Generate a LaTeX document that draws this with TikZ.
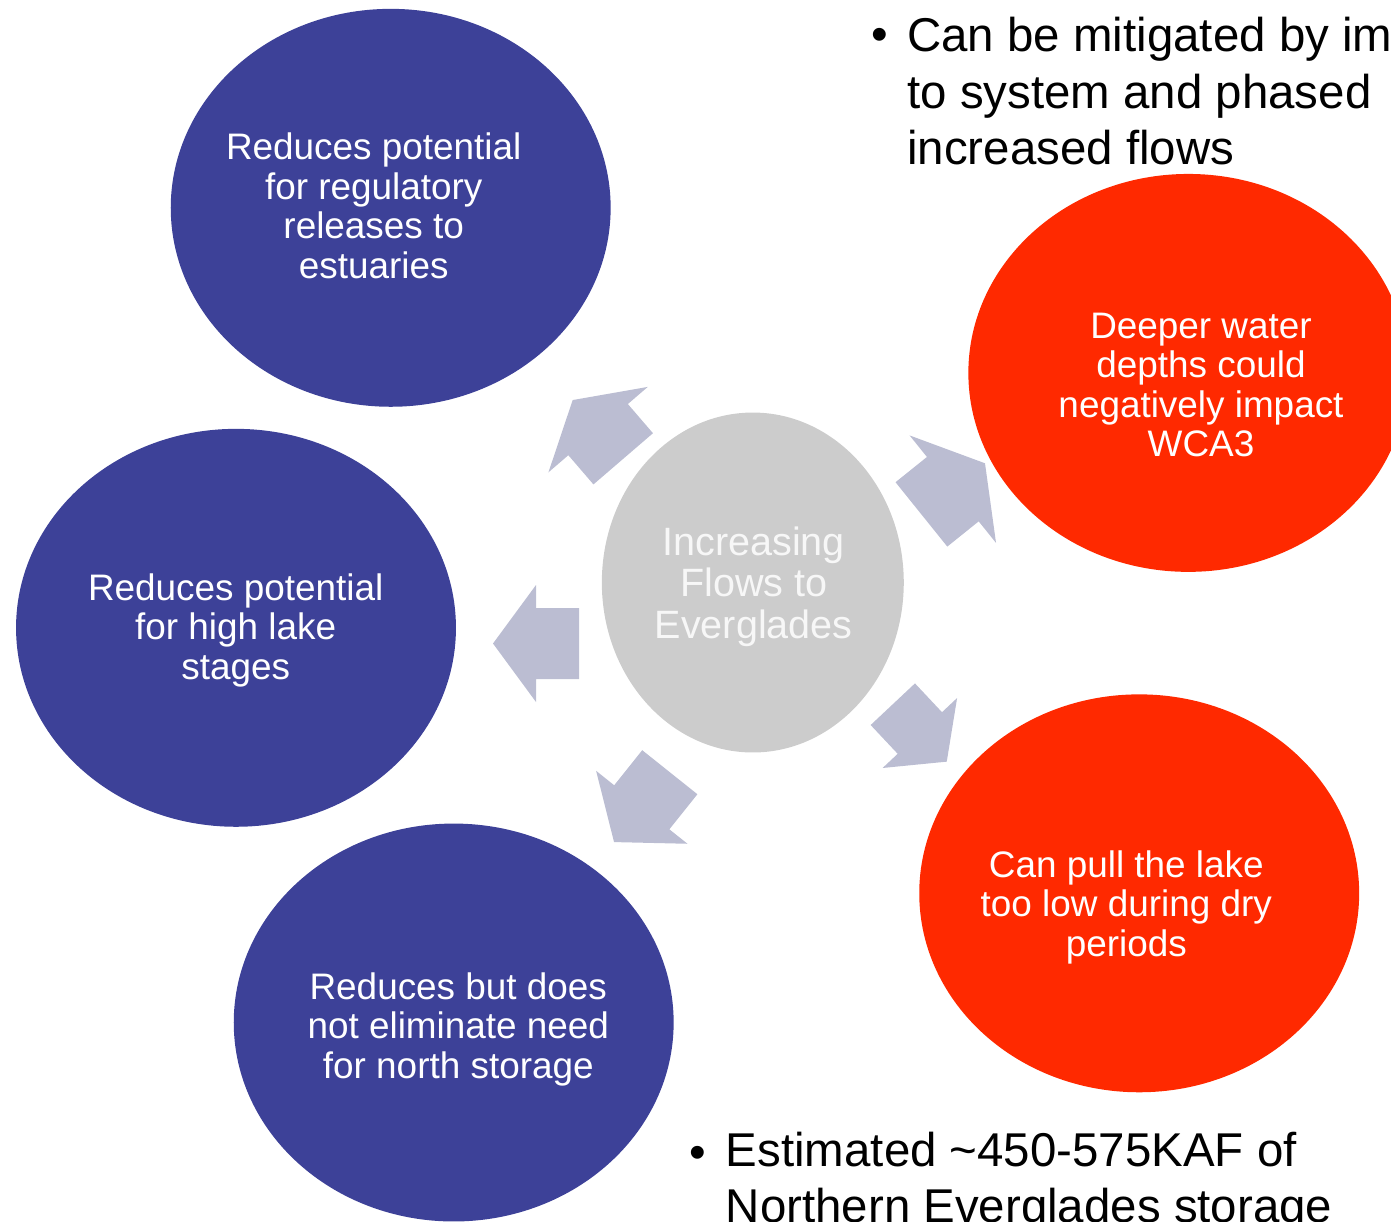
\documentclass[tikz,border=0pt]{standalone}
\usepackage{fontspec}
\setmainfont{Liberation Sans}
\usetikzlibrary{shapes.geometric}

\definecolor{planBlue}{RGB}{61,65,152}
\definecolor{riskRed}{RGB}{255,41,0}
\definecolor{hubGray}{RGB}{204,204,204}
\definecolor{flowGray}{RGB}{187,189,210}

\begin{document}
\begin{tikzpicture}[x=0.02cm,y=-0.02cm,
  blob/.style={ellipse,inner sep=0pt,minimum width=8.8cm,minimum height=7.96cm},
  blobtext/.style={text=white,align=center,inner sep=0pt,font=\fontsize{21}{22.5}\selectfont},
  bullettext/.style={anchor=north west,align=left,inner sep=0pt,font=\fontsize{27}{32}\selectfont},
  dot/.style={inner sep=0pt,font=\fontsize{27}{32}\selectfont},
  flow/.style={fill=flowGray}]

\useasboundingbox (0,0) rectangle (1391,1221);
\clip (0,0) rectangle (1391,1221);

\node[blob,fill=planBlue] (rel) at (390.7,207.8) {};
\node[blob,fill=planBlue] (lake) at (236,627.8) {};
\node[blob,fill=planBlue] (nstor) at (453.7,1022.5) {};
\node[blob,fill=riskRed] (wca) at (1188.3,372.9) {};
\node[blob,fill=riskRed] (dry) at (1139.2,893.3) {};
\node[ellipse,inner sep=0pt,minimum width=6.04cm,minimum height=6.8cm,fill=hubGray] (hub) at (752.8,582.5) {};

\node[blobtext] (rel-t) at (373.7,205.6) {Reduces potential\\for regulatory\\releases to\\estuaries};
\node[blobtext] (lake-t) at (235.7,630.2) {Reduces potential\\for high lake\\stages};
\node[blobtext] (nstor-t) at (458.3,1029.2) {Reduces but does\\not eliminate need\\for north storage};
\node[blobtext] (wca-t) at (1201,384.8) {Deeper water\\depths could\\negatively impact\\WCA3};
\node[blobtext] (dry-t) at (1126.3,907.3) {Can pull the lake\\too low during dry\\periods};
\node[blobtext,text=white!97!black,font=\fontsize{22.5}{23.6}\selectfont] (hub-t) at (753.7,586.6) {Increasing\\Flows to\\Everglades};

% block arrows out of the hub
\foreach \x/\y/\ang/\len/\hd/\hw/\sw in {623.2/458.8/130.7/77.5/39/131/78.5,
    921.4/514.4/38.8/81.6/41.3/137.9/82.6, 579/643.5/180/86/43/117/71,
    892.8/704.2/-46.8/78.8/39.3/102.2/60.8, 669.8/772.2/-128.6/89.4/44.5/116.9/70.6}
  \fill[flow,shift={(\x,\y)},rotate=\ang] (0,{-\sw/2}) -- ({\len-\hd},{-\sw/2}) -- ({\len-\hd},{-\hw/2})
    -- (\len,0) -- ({\len-\hd},{\hw/2}) -- ({\len-\hd},{\sw/2}) -- (0,{\sw/2}) -- cycle;

\node[dot] (b1) at (880,39) {•};
\node[bullettext] (mit) at (907,17.1) {Can be mitigated by im\\to system and phased\\increased flows};
\node[dot] (b2) at (698,1157.5) {•};
\node[bullettext] (est) at (725.5,1132) {Estimated \textasciitilde450-575KAF of\\Northern Everglades storage};
\end{tikzpicture}
\end{document}
